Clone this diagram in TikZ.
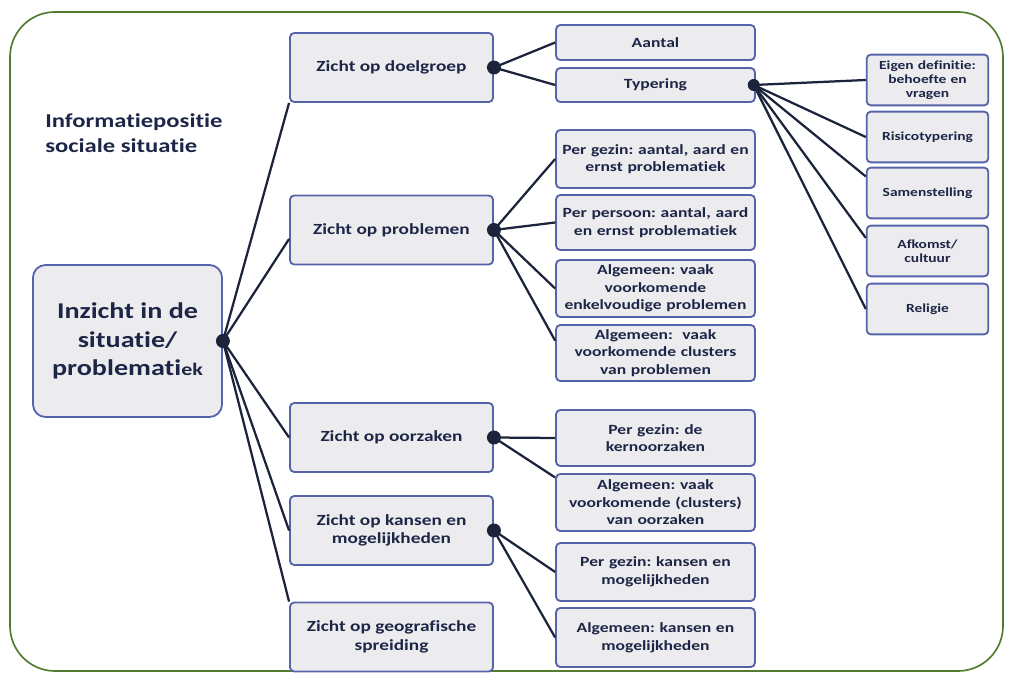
\documentclass[tikz,border=0pt]{standalone}
\usepackage{fontspec}
\setmainfont{Carlito}[Ligatures=NoCommon, FakeStretch=1.25]
\usetikzlibrary{positioning}
\definecolor{framegreen}{RGB}{84,124,48}
\definecolor{boxline}{RGB}{86,98,170}
\definecolor{boxfill}{RGB}{236,236,238}
\definecolor{ink}{RGB}{30,38,72}
\definecolor{wire}{RGB}{28,36,60}
\frenchspacing
\tikzset{
  box/.style={draw=boxline, line width=1.3pt, fill=boxfill, rounded corners=3pt,
    align=center, text=ink, inner sep=1pt},
  lvlone/.style={box, minimum width=5.075cm, minimum height=1.725cm,
    font=\fontsize{11}{13}\selectfont\bfseries},
  lvltwo/.style={box, text width=4.9cm, font=\fontsize{10}{12.5}\selectfont\bfseries},
  lvlthree/.style={box, text width=2.97cm, minimum height=1.27cm,
    font=\fontsize{8.8}{10}\selectfont\bfseries},
  rootbox/.style={box, rounded corners=9pt, minimum width=4.725cm, minimum height=3.8cm,
    font=\fontsize{16}{20}\selectfont\bfseries},
  wirestyle/.style={draw=wire, line width=1.6pt},
  knot/.style={fill=wire}
}

\begin{document}
\begin{tikzpicture}[x=0.025cm, y=-0.025cm]
\useasboundingbox (0,0) rectangle (1012,674);
% frame
\draw[framegreen, line width=1.2pt, rounded corners=1.125cm] (10,12) rectangle (1003,671);
\node[anchor=north west, inner sep=0pt, align=left, text=ink,
  font=\fontsize{14}{18}\selectfont\bfseries] (title) at (45,113)
  {Informatiepositie\\sociale situatie};

% root
\node[rootbox] (root) at (127.5,341) {Inzicht in de\\situatie/\\problemati{\fontsize{12.5}{20}\selectfont ek}};

% level one
\node[lvlone] (doel) at (391.5,67.5) {Zicht op doelgroep};
\node[lvlone] (prob) at (391.5,230) {Zicht op problemen};
\node[lvlone] (oorz) at (391.5,437.5) {Zicht op oorzaken};
\node[lvlone] (kans) at (391.5,530.5) {Zicht op kansen en\\mogelijkheden};
\node[lvlone] (geo) at (391.5,637) {Zicht op geografische\\spreiding};

% level two
\node[lvltwo, minimum height=0.875cm] (aantal) at (655.5,42.5) {Aantal};
\node[lvltwo, minimum height=0.85cm] (typ) at (655.5,85) {Typering};
\node[lvltwo, minimum height=1.45cm] (pgez) at (655.5,159) {Per gezin: aantal, aard en\\ernst problematiek};
\node[lvltwo, minimum height=1.375cm] (ppers) at (655.5,222.5) {Per persoon: aantal, aard\\en ernst problematiek};
\node[lvltwo, minimum height=1.425cm] (algenk) at (655.5,288.5) {Algemeen: vaak\\voorkomende\\enkelvoudige problemen};
\node[lvltwo, minimum height=1.4cm] (algclus) at (655.5,353) {Algemeen:\ \ vaak\\voorkomende clusters\\van problemen};
\node[lvltwo, minimum height=1.4cm] (kern) at (655.5,438) {Per gezin: de\\kernoorzaken};
\node[lvltwo, minimum height=1.425cm] (algoorz) at (655.5,502.5) {Algemeen: vaak\\voorkomende (clusters)\\van oorzaken};
\node[lvltwo, minimum height=1.45cm] (pkans) at (655.5,572) {Per gezin: kansen en\\mogelijkheden};
\node[lvltwo, minimum height=1.475cm] (algkans) at (655.5,637.5) {Algemeen: kansen en\\mogelijkheden};

% level three
\node[lvlthree] (eigen) at (927.5,80) {Eigen definitie:\\behoefte en\\vragen};
\node[lvlthree] (risico) at (927.5,137) {Risicotypering};
\node[lvlthree] (samen) at (927.5,193) {Samenstelling};
\node[lvlthree] (afk) at (927.5,251) {Afkomst/\\cultuur};
\node[lvlthree] (rel) at (927.5,309) {Religie};

% connectors
\draw[wirestyle] (root.east) -- (doel.south west);
\draw[wirestyle] (root.east) -- (prob.185);
\draw[wirestyle] (root.east) -- (oorz.west);
\draw[wirestyle] (root.east) -- (kans.west);
\draw[wirestyle] (root.east) -- (geo.north west);
\foreach \t in {aantal,typ} \draw[wirestyle] (doel.east) -- (\t.west);
\foreach \t in {pgez,ppers,algenk} \draw[wirestyle] (prob.east) -- (\t.west);
\draw[wirestyle] (prob.east) -- (algclus.173);
\draw[wirestyle] (oorz.east) -- (kern.west);
\draw[wirestyle] (oorz.east) -- (algoorz.166);
\foreach \t in {pkans,algkans} \draw[wirestyle] (kans.east) -- (\t.west);
\draw[wirestyle] ([xshift=-1.5pt]typ.east) -- (eigen.west);
\draw[wirestyle] ([xshift=-1.5pt]typ.east) -- (risico.west);
\draw[wirestyle] ([xshift=-1.5pt]typ.east) -- (samen.165);
\draw[wirestyle] ([xshift=-1.5pt]typ.east) -- (afk.168);
\draw[wirestyle] ([xshift=-1.5pt]typ.east) -- (rel.west);

% knots
\foreach \k in {root,doel,prob,oorz,kans} \fill[knot] (\k.east) circle (7);
\fill[knot] ([xshift=-1.5pt]typ.east) circle (6);
\end{tikzpicture}
\end{document}
